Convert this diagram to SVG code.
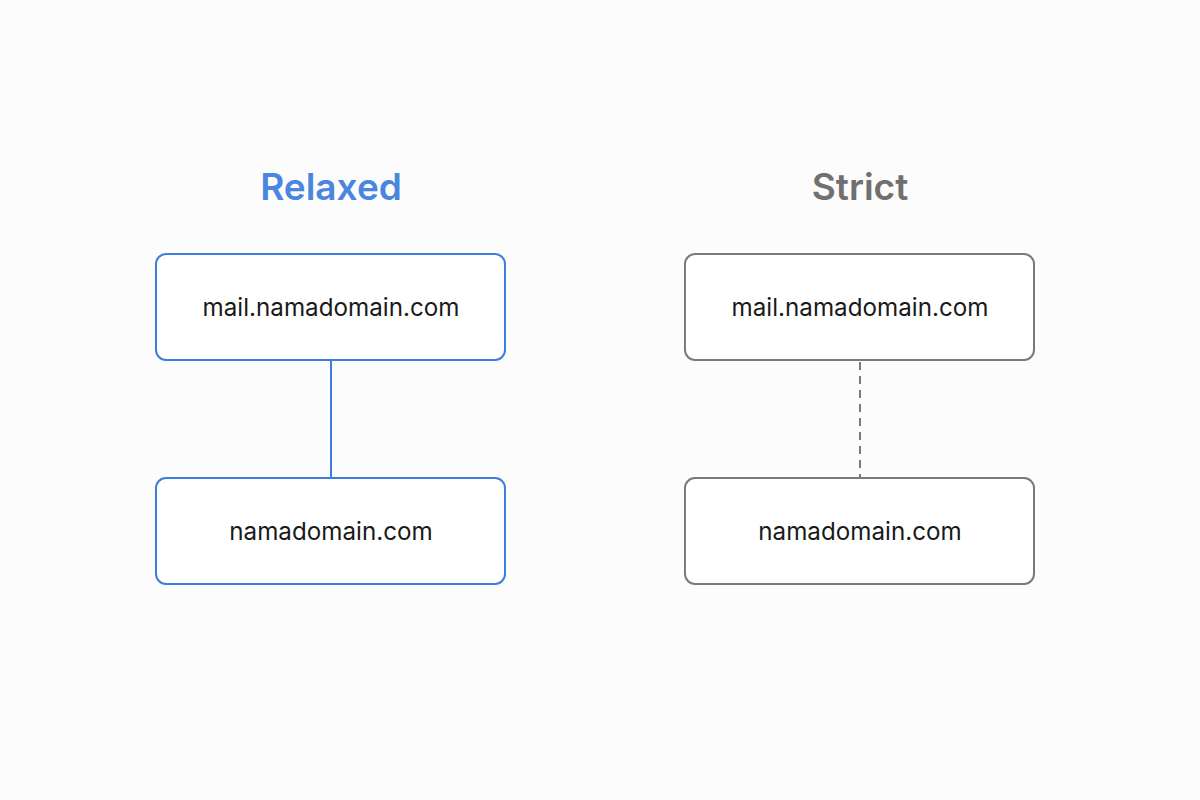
<svg xmlns="http://www.w3.org/2000/svg" width="1200" height="800" viewBox="0 0 1200 800">
<style>
.title{font-family:Inter,"Noto Sans",sans-serif;font-size:37px;font-weight:600;text-anchor:middle}
.lbl{font-family:Inter,"Noto Sans",sans-serif;font-size:24.2px;fill:#1a1a1a;text-anchor:middle}
.blue{fill:#ffffff;stroke:#3d7ddb;stroke-width:2}
.gray{fill:#ffffff;stroke:#7a7a7a;stroke-width:2}
</style>
<rect width="1200" height="800" fill="#fcfcfc"/>
<text class="title" x="331" y="200" fill="#4a86e0">Relaxed</text>
<text class="title" x="860" y="200" fill="#707070">Strict</text>
<g id="connectors">
<line x1="331" y1="360" x2="331" y2="478" stroke="#3d7ddb" stroke-width="2"/>
<line x1="860" y1="362" x2="860" y2="478" stroke="#7a7a7a" stroke-width="2" stroke-dasharray="8 6"/>
</g>
<g id="relaxed-mail">
<rect class="blue" x="156" y="254" width="349" height="106" rx="10"/>
<text class="lbl" x="331" y="316">mail.namadomain.com</text>
</g>
<g id="relaxed-root">
<rect class="blue" x="156" y="478" width="349" height="106" rx="10"/>
<text class="lbl" x="331" y="540">namadomain.com</text>
</g>
<g id="strict-mail">
<rect class="gray" x="685" y="254" width="349" height="106" rx="10"/>
<text class="lbl" x="860" y="316">mail.namadomain.com</text>
</g>
<g id="strict-root">
<rect class="gray" x="685" y="478" width="349" height="106" rx="10"/>
<text class="lbl" x="860" y="540">namadomain.com</text>
</g>
</svg>
